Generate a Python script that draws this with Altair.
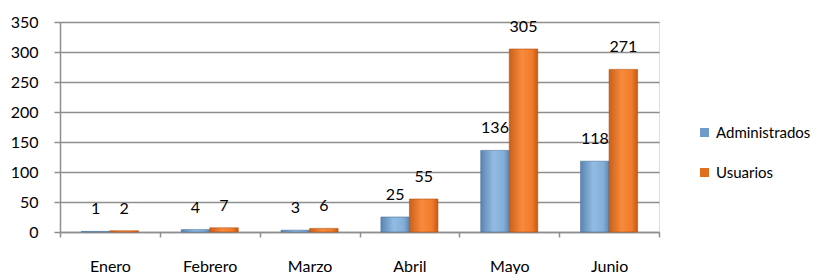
import altair as alt
import pandas as pd

meses = ["Enero", "Febrero", "Marzo", "Abril", "Mayo", "Junio"]
series = ["Administrados", "Usuarios"]
administrados = [1, 4, 3, 25, 136, 118]
usuarios = [2, 7, 6, 55, 305, 271]
y_ticks = [0, 50, 100, 150, 200, 250, 300, 350]

rows = []
for m, a, u in zip(meses, administrados, usuarios):
    rows.append({"mes": m, "serie": series[0], "valor": a})
    rows.append({"mes": m, "serie": series[1], "valor": u})
df = pd.DataFrame(rows)

FONT = "Lato"
GRID = "#8e8e8e"

x_enc = alt.X("mes:N", sort=meses,
              scale=alt.Scale(domain=meses, paddingInner=0, paddingOuter=0),
              axis=alt.Axis(title=None, labelAngle=0, labelFont=FONT, labelFontSize=16,
                            labelColor="#000000", domainColor=GRID, domainWidth=1.5,
                            tickColor=GRID, tickWidth=1.5, tickSize=5, tickBand="extent",
                            labelPadding=21, grid=False))
xoff = alt.XOffset("serie:N", scale=alt.Scale(domain=series, paddingInner=0, paddingOuter=0.75))
y_enc = alt.Y("valor:Q", scale=alt.Scale(domain=[0, 350], nice=False),
              axis=alt.Axis(title=None, values=y_ticks, labelFont=FONT, labelFontSize=16,
                            labelColor="#000000", domainColor=GRID, domainWidth=1.5,
                            tickColor=GRID, tickWidth=1.5, tickSize=6, labelPadding=16,
                            grid=True, gridColor=GRID, gridWidth=1.5))

blue_grad = alt.Gradient(gradient="linear", x1=0, x2=1, y1=0, y2=0, stops=[
    alt.GradientStop(color="#5a84b2", offset=0),
    alt.GradientStop(color="#93bce3", offset=0.45),
    alt.GradientStop(color="#84aed8", offset=0.8),
    alt.GradientStop(color="#5f88b6", offset=1)])
orange_grad = alt.Gradient(gradient="linear", x1=0, x2=1, y1=0, y2=0, stops=[
    alt.GradientStop(color="#c9601a", offset=0),
    alt.GradientStop(color="#f98b3c", offset=0.45),
    alt.GradientStop(color="#ef7a2a", offset=0.8),
    alt.GradientStop(color="#c45a14", offset=1)])

base = alt.Chart(df)

bars_a = base.transform_filter(alt.datum.serie == series[0]).mark_bar(
    color=blue_grad, stroke="#4a72a0", strokeWidth=0.6).encode(x=x_enc, xOffset=xoff, y=y_enc)
bars_u = base.transform_filter(alt.datum.serie == series[1]).mark_bar(
    color=orange_grad, stroke="#b55210", strokeWidth=0.6).encode(x=x_enc, xOffset=xoff, y=y_enc)

labels = base.mark_text(font=FONT, fontSize=16, color="#000000", baseline="middle", dy=-22).encode(
    x=x_enc, xOffset=xoff, y=y_enc, text=alt.Text("valor:Q"))

legend_layer = base.mark_square(opacity=0, size=1).encode(
    x=x_enc, xOffset=xoff, y=y_enc,
    color=alt.Color("serie:N", scale=alt.Scale(domain=series, range=["#6f9bcb", "#e0701e"]),
                    legend=alt.Legend(title=None, orient="none", legendX=637, legendY=103,
                                      symbolType="square", symbolSize=81, symbolOpacity=1,
                                      symbolStrokeWidth=0, labelFont=FONT, labelFontSize=15,
                                      labelColor="#000000", labelOffset=4, rowPadding=24,
                                      labelLimit=200)))

chart = alt.layer(bars_a, bars_u, labels, legend_layer).properties(
    width=599, height=210,
    autosize=alt.AutoSizeParams(type="none"),
    padding={"left": 52, "top": 14, "right": 155, "bottom": 42},
).configure_view(stroke=None).configure(background="white")

chart.save("out.html", embed_options={"renderer": "svg", "actions": False})
